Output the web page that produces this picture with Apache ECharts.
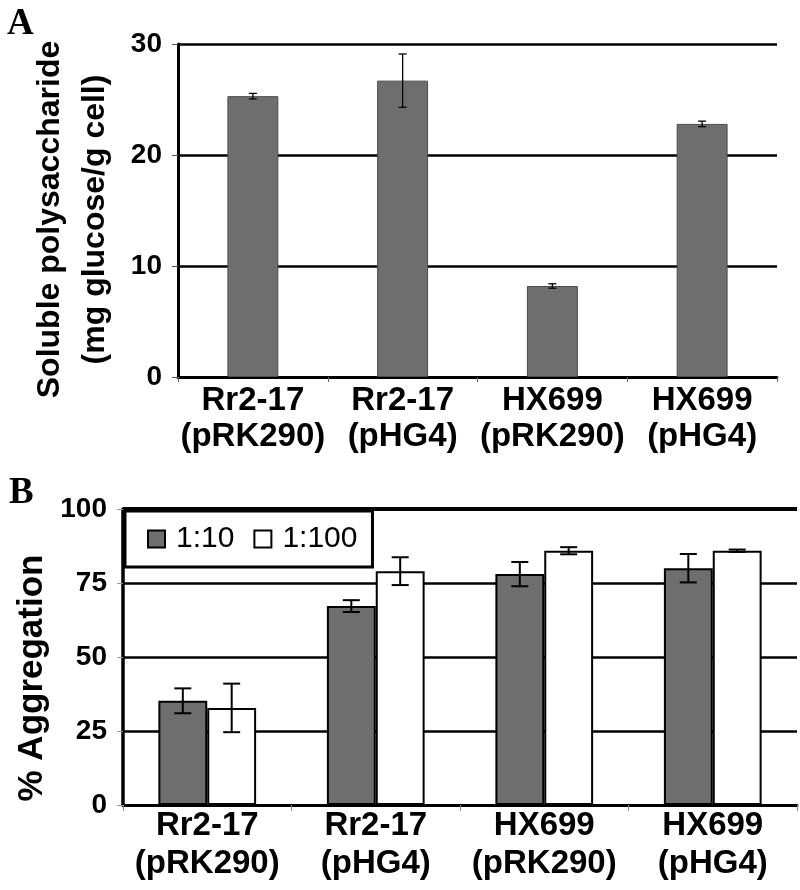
<!DOCTYPE html>
<html>
<head>
<meta charset="utf-8">
<script src="https://cdn.jsdelivr.net/npm/echarts@6/dist/echarts.min.js"></script>
<style>html,body{margin:0;padding:0;background:#fff}#c{width:800px;height:890px}</style>
</head>
<body>
<div id="c"></div>
<script>
const categories = ['Rr2-17\n(pRK290)', 'Rr2-17\n(pHG4)', 'HX699\n(pRK290)', 'HX699\n(pHG4)'];
const polyValues = [25.3, 26.7, 8.2, 22.8];
const polyErrors = [0.25, 2.4, 0.2, 0.25];
const seriesNames = ['1:10', '1:100'];
const aggr110 = [35.2, 67.2, 78.0, 80.0];
const aggr110Err = [4.2, 2.0, 4.1, 4.8];
const aggr1100 = [32.8, 79.0, 85.9, 85.9];
const aggr1100Err = [8.2, 4.7, 1.2, 0.4];
const yAxisA = {min: 0, max: 30, interval: 10};
const yAxisB = {min: 0, max: 100, interval: 25};

const FONT = 'Liberation Sans, Arial, sans-serif';
const DARK = '#6e6e6e';

function errData(vals, errs) {
  return vals.map((v, i) => [i, v - errs[i], v + errs[i]]);
}
function makeErr(capW, lw, offsetFrac) {
  return function (params, api) {
    const x = api.value(0);
    const lo = api.coord([x, api.value(1)]);
    const hi = api.coord([x, api.value(2)]);
    const band = api.size([1, 0])[0];
    const cx = lo[0] + offsetFrac * band;
    const st = {stroke: '#000', lineWidth: lw};
    return {type: 'group', children: [
      {type: 'line', shape: {x1: cx, y1: hi[1], x2: cx, y2: lo[1]}, style: st},
      {type: 'line', shape: {x1: cx - capW / 2, y1: hi[1], x2: cx + capW / 2, y2: hi[1]}, style: st},
      {type: 'line', shape: {x1: cx - capW / 2, y1: lo[1], x2: cx + capW / 2, y2: lo[1]}, style: st}
    ]};
  };
}

const catGapB = 0.42;
const barFracB = (1 - catGapB) / 2;

const xLabelA = {color: '#000', fontFamily: FONT, fontWeight: 'bold', fontSize: 33, lineHeight: 36, margin: 6, interval: 0};
const xLabelB = {color: '#000', fontFamily: FONT, fontWeight: 'bold', fontSize: 33, lineHeight: 38, margin: 2, interval: 0};
const yLabel = {color: '#000', fontFamily: FONT, fontWeight: 'bold', fontSize: 28, margin: 16};

const chart = echarts.init(document.getElementById('c'), null, {renderer: 'canvas'});
chart.setOption({
  animation: false,
  backgroundColor: '#fff',
  title: [
    {text: 'A', left: 2, top: 1, textStyle: {fontFamily: 'Liberation Serif, Times New Roman, serif', fontWeight: 'bold', fontSize: 37, color: '#000'}},
    {text: 'B', left: 4, top: 470, textStyle: {fontFamily: 'Liberation Serif, Times New Roman, serif', fontWeight: 'bold', fontSize: 37, color: '#000'}}
  ],
  legend: {
    data: seriesNames,
    left: 125, top: 511,
    orient: 'horizontal',
    icon: 'rect',
    itemWidth: 17, itemHeight: 17, itemGap: 19,
    padding: [13, 15, 13, 22],
    borderColor: '#000', borderWidth: 3, backgroundColor: '#fff',
    itemStyle: {borderColor: '#000', borderWidth: 2},
    textStyle: {fontFamily: FONT, fontSize: 30, color: '#000', padding: [0, 0, 0, 6]},
    z: 10
  },
  grid: [
    {left: 178, top: 44, right: 23, bottom: 513},
    {left: 123, top: 509, right: 3, bottom: 85}
  ],
  xAxis: [
    {type: 'category', gridIndex: 0, data: categories,
      axisLine: {lineStyle: {color: '#000', width: 3}},
      axisTick: {show: true, length: 5, lineStyle: {color: '#666', width: 1}},
      axisLabel: xLabelA},
    {type: 'category', gridIndex: 1, data: categories,
      axisLine: {lineStyle: {color: '#000', width: 3}},
      axisTick: {show: true, length: 6, lineStyle: {color: '#888', width: 1}},
      axisLabel: xLabelB}
  ],
  yAxis: [
    {type: 'value', gridIndex: 0, min: yAxisA.min, max: yAxisA.max, interval: yAxisA.interval,
      name: 'Soluble polysaccharide\n(mg glucose/g cell)', nameLocation: 'middle', nameGap: 60,
      nameTextStyle: {color: '#000', fontFamily: FONT, fontWeight: 'bold', fontSize: 32, lineHeight: 45, padding: [0, 18, 0, 0]},
      axisLine: {show: true, lineStyle: {color: '#000', width: 3}},
      axisTick: {show: true, length: 6, lineStyle: {color: '#555', width: 1}},
      splitLine: {show: true, lineStyle: {color: '#000', width: 2.5}},
      axisLabel: yLabel},
    {type: 'value', gridIndex: 1, min: yAxisB.min, max: yAxisB.max, interval: yAxisB.interval,
      name: '% Aggregation', nameLocation: 'middle', nameGap: 68,
      nameTextStyle: {color: '#000', fontFamily: FONT, fontWeight: 'bold', fontSize: 35, padding: [0, 42, 0, 0]},
      axisLine: {show: true, lineStyle: {color: '#000', width: 3.5}},
      axisTick: {show: true, length: 6, lineStyle: {color: '#999', width: 1}},
      splitLine: {show: true, lineStyle: {color: '#000', width: 2.5}},
      axisLabel: yLabel}
  ],
  series: [
    {type: 'bar', xAxisIndex: 0, yAxisIndex: 0, data: polyValues, barCategoryGap: '66%',
      itemStyle: {color: DARK, borderColor: '#4a4a4a', borderWidth: 1}},
    {type: 'custom', xAxisIndex: 0, yAxisIndex: 0, data: errData(polyValues, polyErrors),
      encode: {x: 0, y: [1, 2]}, renderItem: makeErr(8, 1.3, 0), z: 5},
    {type: 'bar', name: seriesNames[0], xAxisIndex: 1, yAxisIndex: 1, data: aggr110,
      barGap: '0%', barCategoryGap: (catGapB * 100) + '%',
      itemStyle: {color: DARK, borderColor: '#000', borderWidth: 2},
      markLine: {silent: true, symbol: 'none', label: {show: false},
        lineStyle: {color: '#000', width: 4, type: 'solid'}, data: [{yAxis: yAxisB.max}]}},
    {type: 'bar', name: seriesNames[1], xAxisIndex: 1, yAxisIndex: 1, data: aggr1100,
      barGap: '0%', barCategoryGap: (catGapB * 100) + '%',
      itemStyle: {color: '#fff', borderColor: '#000', borderWidth: 2}},
    {type: 'custom', xAxisIndex: 1, yAxisIndex: 1, data: errData(aggr110, aggr110Err),
      encode: {x: 0, y: [1, 2]}, renderItem: makeErr(17, 2, -barFracB / 2), z: 5},
    {type: 'custom', xAxisIndex: 1, yAxisIndex: 1, data: errData(aggr1100, aggr1100Err),
      encode: {x: 0, y: [1, 2]}, renderItem: makeErr(17, 2, barFracB / 2), z: 5}
  ]
});
</script>
</body>
</html>
